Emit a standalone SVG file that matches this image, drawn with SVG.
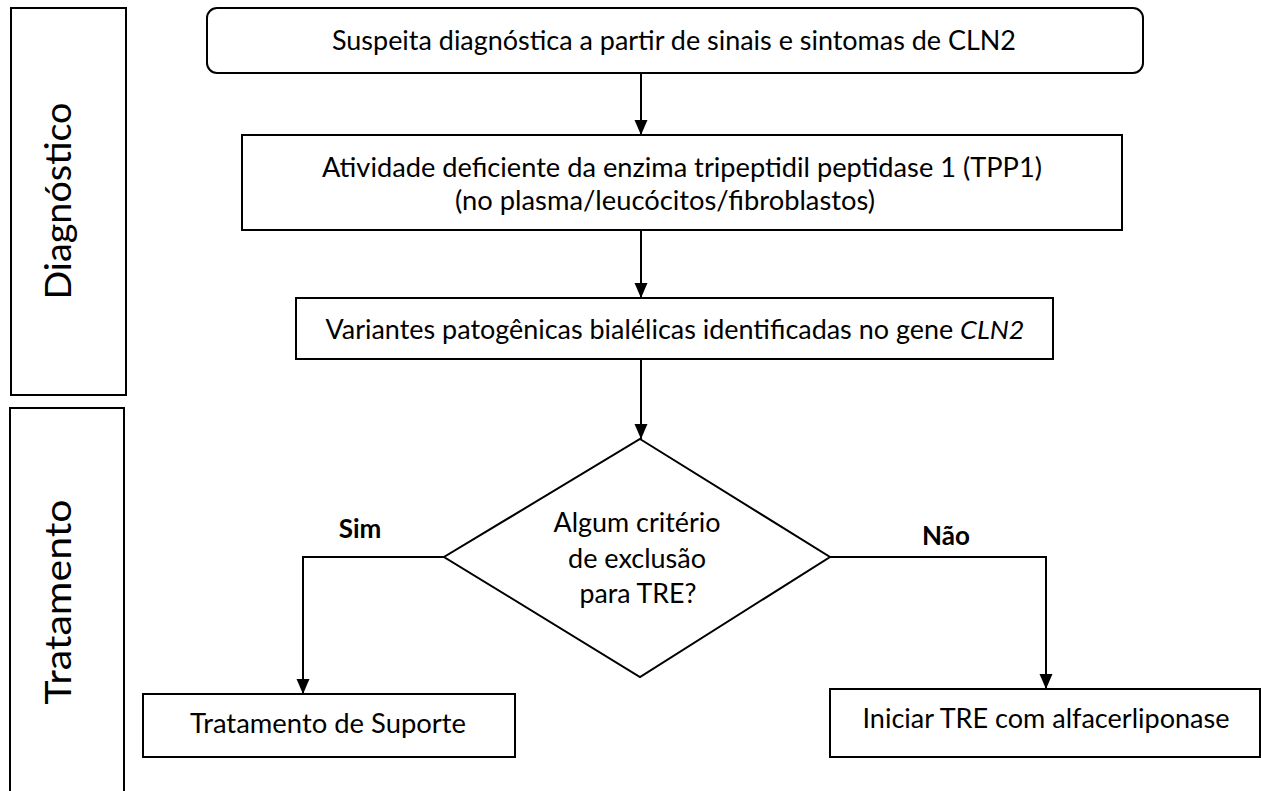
<svg xmlns="http://www.w3.org/2000/svg" width="1261" height="791" viewBox="0 0 1261 791">
<style>
.box{fill:#fff;stroke:#000;stroke-width:2}
.t{font-family:Lato,"Open Sans","Liberation Sans",sans-serif;font-size:26px;fill:#000;text-anchor:middle}
.side{font-family:Lato,"Open Sans","Liberation Sans",sans-serif;font-size:36px;fill:#000;text-anchor:middle}
.b{font-weight:bold}
.c{fill:none;stroke:#000;stroke-width:2}
</style>
<defs>
<marker id="ah" markerUnits="userSpaceOnUse" markerWidth="16" markerHeight="14" refX="15" refY="6.5" orient="auto">
<path d="M0,0 L15,6.5 L0,13 Z" fill="#000"/>
</marker>
</defs>
<rect width="1261" height="791" fill="#fff"/>
<g id="lane-diagnostico">
<rect class="box" x="11" y="8" width="115" height="387"/>
<text class="side" transform="translate(71,201) rotate(-90)" textLength="197" lengthAdjust="spacingAndGlyphs">Diagnóstico</text>
</g>
<g id="lane-tratamento">
<rect class="box" x="10" y="408" width="114" height="400"/>
<text class="side" transform="translate(71,602) rotate(-90)" textLength="205" lengthAdjust="spacingAndGlyphs">Tratamento</text>
</g>
<g id="connectors">
<line class="c" x1="641" y1="73" x2="641" y2="135" marker-end="url(#ah)"/>
<line class="c" x1="641" y1="230" x2="641" y2="298" marker-end="url(#ah)"/>
<line class="c" x1="641" y1="359" x2="641" y2="439" marker-end="url(#ah)"/>
<polyline class="c" points="444,557 303,557 303,694" marker-end="url(#ah)"/>
<polyline class="c" points="830,557 1046,557 1046,689" marker-end="url(#ah)"/>
<text class="t b" x="360" y="538">Sim</text>
<text class="t b" x="946" y="545">Não</text>
</g>
<g id="n1">
<rect class="box" x="207" y="8" width="936" height="65" rx="10"/>
<text class="t" x="674" y="50" textLength="684" lengthAdjust="spacingAndGlyphs">Suspeita diagnóstica a partir de sinais e sintomas de CLN2</text>
</g>
<g id="n2">
<rect class="box" x="242" y="135" width="880" height="95"/>
<text class="t" x="682" y="177" textLength="720" lengthAdjust="spacingAndGlyphs">Atividade deficiente da enzima tripeptidil peptidase 1 (TPP1)</text>
<text class="t" x="665" y="210" textLength="420" lengthAdjust="spacingAndGlyphs">(no plasma/leucócitos/fibroblastos)</text>
</g>
<g id="n3">
<rect class="box" x="296" y="298" width="757" height="61"/>
<text class="t" x="675" y="339" textLength="699" lengthAdjust="spacingAndGlyphs">Variantes patogênicas bialélicas identificadas no gene <tspan font-style="italic">CLN2</tspan></text>
</g>
<g id="n4">
<polygon class="box" points="640,439 830,557 640,677 444,557"/>
<text class="t" x="637" y="532" textLength="167" lengthAdjust="spacingAndGlyphs">Algum critério</text>
<text class="t" x="637" y="568" textLength="138" lengthAdjust="spacingAndGlyphs">de exclusão</text>
<text class="t" x="638" y="603" textLength="117" lengthAdjust="spacingAndGlyphs">para TRE?</text>
</g>
<g id="n5">
<rect class="box" x="143" y="694" width="372" height="63"/>
<text class="t" x="328" y="733" textLength="276" lengthAdjust="spacingAndGlyphs">Tratamento de Suporte</text>
</g>
<g id="n6">
<rect class="box" x="830" y="689" width="430" height="68"/>
<text class="t" x="1046" y="728" textLength="367" lengthAdjust="spacingAndGlyphs">Iniciar TRE com alfacerliponase</text>
</g>
</svg>
